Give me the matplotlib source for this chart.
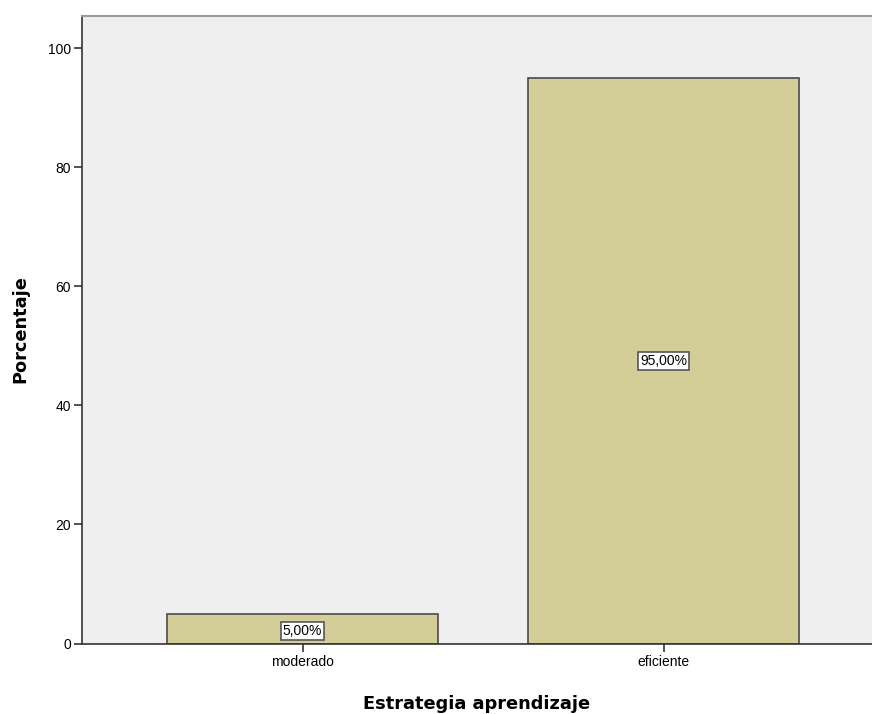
import matplotlib.pyplot as plt

categories = ['moderado', 'eficiente']
porcentajes = [5.0, 95.0]
labels = ['5,00%', '95,00%']

plt.rcParams['font.family'] = ['Liberation Sans', 'DejaVu Sans']

fig = plt.figure(figsize=(8.72, 7.14), dpi=100)
ax = fig.add_axes([82 / 872, 70.5 / 714, 1 - 82 / 872, 628 / 714])
ax.set_facecolor('#efefef')

x = range(len(categories))
ax.bar(x, porcentajes, width=0.75, color='#d3ce97', edgecolor='#4a4a4a', linewidth=1.2, zorder=2)

for i, (v, lab) in enumerate(zip(porcentajes, labels)):
    ax.text(i, v / 2 - (0.4 if v < 10 else 0), lab, ha='center', va='center', fontsize=10, zorder=3,
            bbox=dict(boxstyle='square,pad=0.15', facecolor='white', edgecolor='#555555', linewidth=1.2))

ax.set_xlim(-0.611, 1.577)
ax.set_ylim(0, 105.46)
ax.set_xticks(list(x))
ax.set_xticklabels(categories, fontsize=10)
ax.set_yticks([0, 20, 40, 60, 80, 100])
ax.tick_params(axis='both', direction='out', length=6, width=1.2, color='#333333', pad=2)

ax.spines['right'].set_visible(False)
ax.spines['top'].set_color('#999999')
ax.spines['top'].set_linewidth(1.5)
ax.spines['left'].set_color('#333333')
ax.spines['bottom'].set_color('#333333')
ax.spines['left'].set_linewidth(1.2)
ax.spines['bottom'].set_linewidth(1.2)

ax.set_ylabel('Porcentaje', fontsize=12.8, fontweight='bold', family='DejaVu Sans', labelpad=13)
ax.set_xlabel('Estrategia aprendizaje', fontsize=12.8, fontweight='bold', family='DejaVu Sans', labelpad=19)

fig.savefig('out.png', dpi=100)
